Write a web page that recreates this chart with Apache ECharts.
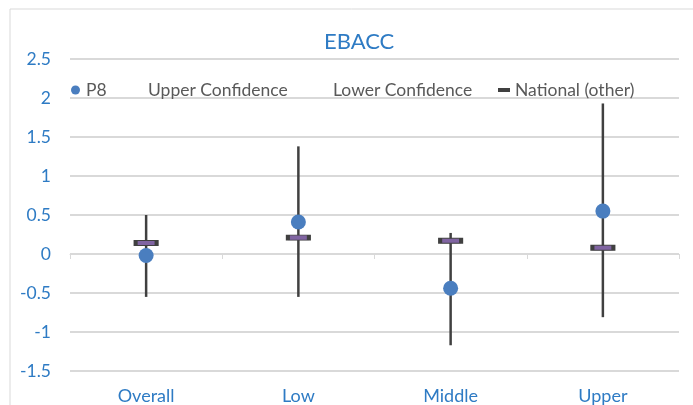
<!DOCTYPE html>
<html><head><meta charset="utf-8">
<script src="https://cdn.jsdelivr.net/npm/echarts@6/dist/echarts.min.js"></script>
<style>html,body{margin:0;padding:0;background:#fff}#c{width:693px;height:405px}</style>
</head><body><div id="c"></div>
<script>
const categories = ['Overall', 'Low', 'Middle', 'Upper'];
const p8 = [-0.02, 0.41, -0.44, 0.55];
const upperConfidence = [0.50, 1.38, 0.27, 1.93];
const lowerConfidence = [-0.55, -0.55, -1.17, -0.81];
const national = [0.14, 0.21, 0.17, 0.08];
const yTicks = { min: -1.5, max: 2.5, interval: 0.5 };

const blue = '#2E7BC4';
const font = 'Lato';
const chart = echarts.init(document.getElementById('c'));
const legendText = { color: '#595959', fontSize: 17.5, fontFamily: font };
function legendAt(left, name, extra) {
  return Object.assign({ left: left, top: 76, itemWidth: 11, itemHeight: 9, itemGap: 0,
    textStyle: legendText, data: [name], selectedMode: false }, extra || {});
}
chart.setOption({
  animation: false,
  title: { text: 'EBACC', left: 319, top: 26, textStyle: { color: blue, fontSize: 22, fontWeight: 'normal', fontFamily: font } },
  graphic: [
    { type: 'line', shape: { x1: 10, y1: 9, x2: 693, y2: 9 }, style: { stroke: '#d9d9d9', lineWidth: 1 } },
    { type: 'line', shape: { x1: 10, y1: 9, x2: 10, y2: 405 }, style: { stroke: '#d9d9d9', lineWidth: 1 } }
  ],
  legend: [
    legendAt(66, 'P8'),
    legendAt(127, 'Upper Confidence', { itemStyle: { opacity: 0 } }),
    legendAt(311, 'Lower Confidence', { itemStyle: { opacity: 0 } }),
    legendAt(493, 'National (other)', { itemWidth: 12, itemHeight: 4, itemStyle: { color: '#404040', borderWidth: 0 } })
  ],
  grid: { left: 70, right: 14, top: 59, bottom: 34 },
  xAxis: [
    { type: 'category', data: categories, position: 'bottom', axisLine: { show: false, onZero: false }, axisTick: { show: false },
      axisLabel: { color: blue, fontSize: 18, fontFamily: font, margin: 16 } },
    { type: 'category', data: categories, position: 'bottom', axisLine: { show: true, onZero: true, lineStyle: { color: '#d9d9d9' } },
      axisTick: { show: true, length: 5, lineStyle: { color: '#d9d9d9' } }, axisLabel: { show: false } }
  ],
  yAxis: { type: 'value', min: yTicks.min, max: yTicks.max, interval: yTicks.interval,
    axisLine: { show: false }, axisTick: { show: false },
    axisLabel: { color: blue, fontSize: 17.5, fontFamily: font, margin: 19 },
    splitLine: { lineStyle: { color: '#d9d9d9', width: 2 } } },
  series: [
    { name: 'Upper Confidence', type: 'custom', xAxisIndex: 0, z: 2,
      data: categories.map((c, i) => [i, lowerConfidence[i], upperConfidence[i]]),
      renderItem: function (params, api) {
        const a = api.coord([api.value(0), api.value(1)]);
        const b = api.coord([api.value(0), api.value(2)]);
        return { type: 'line', shape: { x1: a[0], y1: a[1], x2: b[0], y2: b[1] }, style: { stroke: '#404040', lineWidth: 2.5 } };
      } },
    { name: 'Lower Confidence', type: 'line', data: lowerConfidence.map(() => null), showSymbol: false, lineStyle: { opacity: 0 } },
    { name: 'National (other)', type: 'scatter', data: national, symbol: 'rect', symbolSize: [21, 5], z: 3,
      itemStyle: { color: '#8064A2', borderColor: '#404040', borderWidth: 2, opacity: 1 } },
    { name: 'P8', type: 'scatter', data: p8, symbol: 'circle', symbolSize: 15, z: 4,
      itemStyle: { color: '#4A7EBF', opacity: 1 } }
  ]
});
</script></body></html>
